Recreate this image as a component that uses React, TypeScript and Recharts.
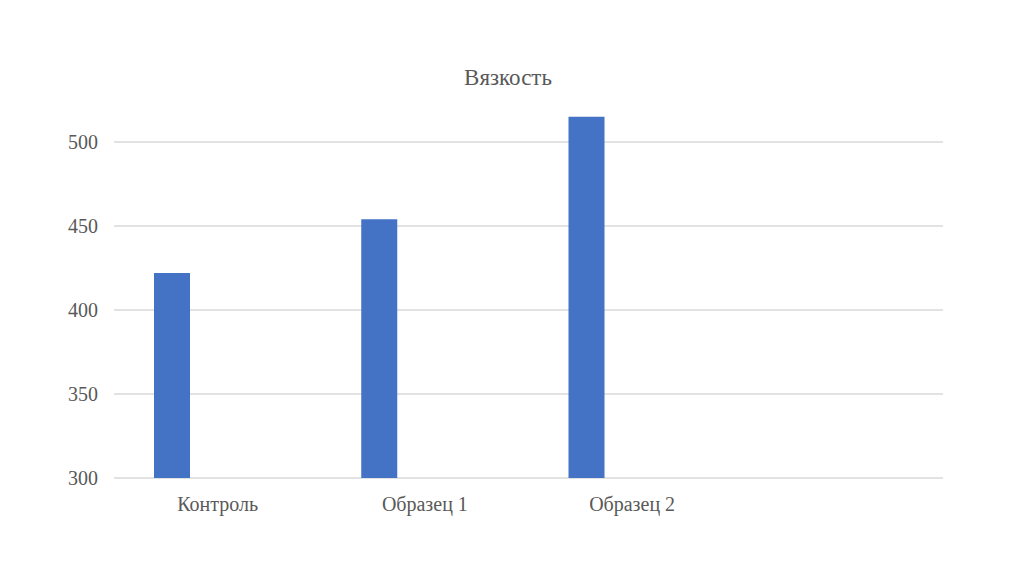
import React from "react";
import { BarChart, Bar, XAxis, YAxis, CartesianGrid } from "recharts";

const categories = ["Контроль", "Образец 1", "Образец 2", ""];
const viscosity = [422, 454, 515, null];
const yTicks = [300, 350, 400, 450, 500];
const title = "Вязкость";

const data = categories.map((name, i) => ({ name, value: viscosity[i], empty: null }));

const font = "Liberation Serif";
const textColor = "#595959";

export default function App() {
  return (
    <div style={{ position: "absolute", left: 0, top: 0, width: 1024, height: 574, background: "#fff" }}>
      <div
        style={{
          position: "absolute",
          left: 0,
          width: 1016,
          top: 64,
          textAlign: "center",
          fontFamily: font,
          fontSize: 23,
          color: textColor,
          lineHeight: "28px",
        }}
      >
        {title}
      </div>
      <BarChart
        width={1024}
        height={574}
        data={data}
        margin={{ top: 58, right: 81, bottom: 0, left: 0 }}
        barGap={55}
        barSize={36}
      >
        <CartesianGrid vertical={false} horizontalValues={yTicks} stroke="#d9d9d9" strokeWidth={1.3} />
        <XAxis
          dataKey="name"
          height={96}
          axisLine={false}
          tickLine={false}
          tickMargin={13}
          interval={0}
          tick={{ fill: textColor, fontFamily: font, fontSize: 20 }}
        />
        <YAxis
          width={114}
          domain={[300, 550]}
          ticks={yTicks}
          axisLine={false}
          tickLine={false}
          tickMargin={10}
          tick={{ fill: textColor, fontFamily: font, fontSize: 20 }}
        />
        <Bar dataKey="value" fill="#4472C4" isAnimationActive={false} />
        <Bar dataKey="empty" fill="#ED7D31" isAnimationActive={false} />
      </BarChart>
    </div>
  );
}
